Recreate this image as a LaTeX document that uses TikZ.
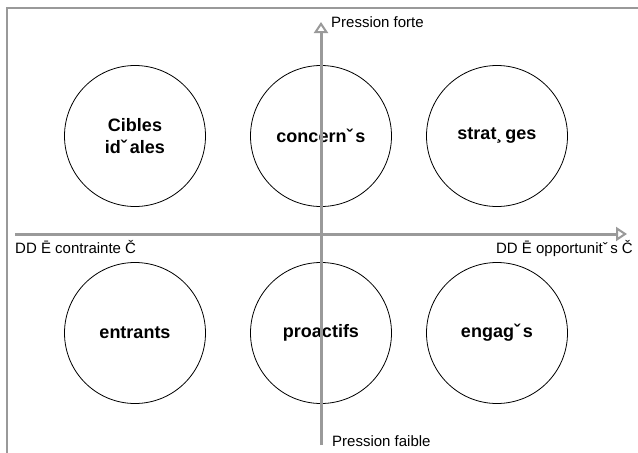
\documentclass[tikz,border=0pt]{standalone}
\usepackage{fontspec}
\setmainfont{Liberation Sans}
\usetikzlibrary{arrows.meta}
\definecolor{framegray}{HTML}{999999}
\definecolor{axisgray}{HTML}{9A9A9A}
\begin{document}
\begin{tikzpicture}[x=1pt,y=-1pt,
  frameline/.style={draw=framegray, line width=2.6pt},
  axisline/.style={draw=axisgray, line width=3pt,
    -{Triangle[open,length=11pt,width=14pt,line width=2pt]}},
  quad/.style={circle, draw=black, line width=0.8pt, minimum size=141pt,
    inner sep=0pt, align=center,
    font=\fontsize{18}{22}\selectfont\bfseries},
  lab/.style={font=\fontsize{15}{17}\selectfont, inner sep=0pt}]
\fill[white] (0,0) rectangle (638,453);
\useasboundingbox (0,0) rectangle (638,453);
% frame
\coordinate (fR) at (638,8);
\coordinate (fTL) at (7,8);
\coordinate (fB) at (7,453);
\draw[frameline] (fR) -- (fTL) -- (fB);
% circles
\node[quad] (ideal) at (135,136) {Cibles\\idˇ\,ales};
\node[quad] (conc)  at (321,136) {concernˇ\,s};
\node[quad] (strat) at (497,136) {strat¸\,ges};
\node[quad] (entr)  at (135,333) {entrants};
\node[quad] (proa)  at (321,333) {proactifs};
\node[quad] (enga)  at (497,333) {engagˇ\,s};
% axes
\coordinate (hL) at (15,234);
\coordinate (hR) at (627,234);
\coordinate (vB) at (321,445);
\coordinate (vT) at (321,22);
\draw[axisline] (hL) -- (hR);
\draw[axisline] (vB) -- (vT);
% labels
\node[lab, anchor=base west] (pforte)  at (331,27)  {Pression forte};
\node[lab, anchor=base west] (pfaible) at (332,446) {Pression faible};
\node[lab, anchor=base west] (ddc) at (15,253)  {DD Ē contrainte Č};
\node[lab, anchor=base east] (ddo) at (633,253) {DD Ē opportunitˇ\,s Č};
\end{tikzpicture}
\end{document}
